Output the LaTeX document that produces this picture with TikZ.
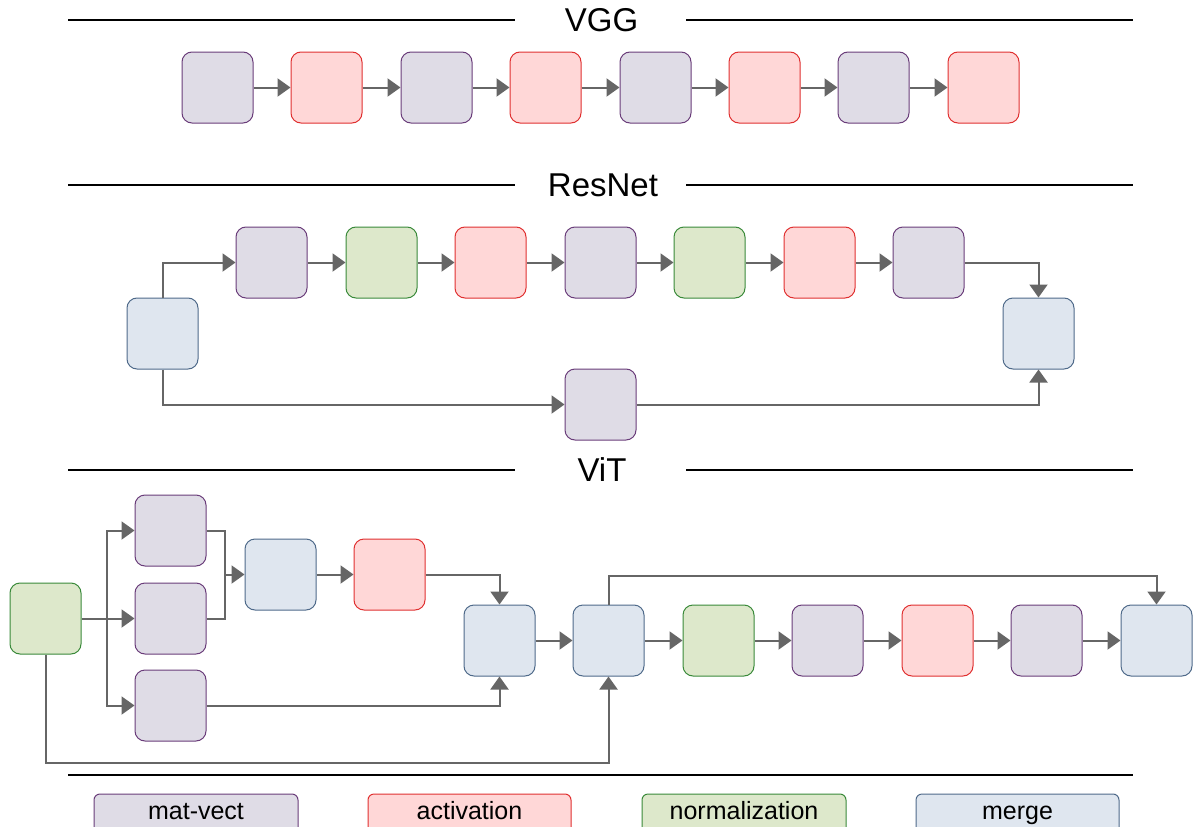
\documentclass[tikz,border=0pt]{standalone}
\usepackage{fontspec}
\setmainfont{Liberation Sans}
\usetikzlibrary{arrows.meta}
\definecolor{mvF}{HTML}{DFDCE6}\definecolor{mvD}{HTML}{6A3D7A}
\definecolor{acF}{HTML}{FFD7D7}\definecolor{acD}{HTML}{E03030}
\definecolor{nmF}{HTML}{DDE8CB}\definecolor{nmD}{HTML}{3A8A3A}
\definecolor{mgF}{HTML}{DFE6EF}\definecolor{mgD}{HTML}{4F6A8A}
\definecolor{arr}{HTML}{666666}
\tikzset{
 blk/.style={rectangle,rounded corners=10pt,minimum width=71pt,minimum height=71pt,line width=1pt,inner sep=0pt},
 mv/.style={blk,fill=mvF,draw=mvD},
 ac/.style={blk,fill=acF,draw=acD},
 nm/.style={blk,fill=nmF,draw=nmD},
 mg/.style={blk,fill=mgF,draw=mgD},
 con/.style={draw=arr,line width=2pt,-{Triangle[length=13pt,width=18pt]}},
 con0/.style={draw=arr,line width=2pt},
 rule/.style={line width=2pt,black},
 ttl/.style={font=\fontsize{33}{38}\selectfont,inner sep=0pt},
 legbox/.style={rounded corners=6pt,line width=1pt},
 legtxt/.style={anchor=base,inner sep=0pt,font=\fontsize{25}{28}\selectfont,text=black},
}
\begin{document}
\begin{tikzpicture}[x=1pt,y=-1pt]
\useasboundingbox (0,0) rectangle (1195,827);
% titles
\draw[rule] (68,20) -- (515,20); \draw[rule] (686,20) -- (1133,20);
\node[ttl] (tvgg) at (601.5,20) {VGG};
\draw[rule] (68,185) -- (515,185); \draw[rule] (686,185) -- (1133,185);
\node[ttl] (tres) at (603,185) {ResNet};
\draw[rule] (68,470) -- (515,470); \draw[rule] (686,470) -- (1133,470);
\node[ttl] (tvit) at (602,470) {ViT};
\draw[rule] (68,775) -- (1133,775);
% VGG
\node[mv] (v1) at (217.5,87.5) {};
\node[ac] (v2) at (326.5,87.5) {};
\node[mv] (v3) at (436.5,87.5) {};
\node[ac] (v4) at (545.5,87.5) {};
\node[mv] (v5) at (655.5,87.5) {};
\node[ac] (v6) at (764.5,87.5) {};
\node[mv] (v7) at (873.5,87.5) {};
\node[ac] (v8) at (983.5,87.5) {};
\foreach \a/\b in {v1/v2,v2/v3,v3/v4,v4/v5,v5/v6,v6/v7,v7/v8}{\draw[con] (\a) -- (\b);}
% ResNet
\node[mg] (rin) at (162.5,333.5) {};
\node[mv] (r1) at (271.5,262.5) {};
\node[nm] (r2) at (381.5,262.5) {};
\node[ac] (r3) at (490.5,262.5) {};
\node[mv] (r4) at (600.5,262.5) {};
\node[nm] (r5) at (709.5,262.5) {};
\node[ac] (r6) at (819.5,262.5) {};
\node[mv] (r7) at (928.5,262.5) {};
\node[mv] (rb) at (600.5,404.5) {};
\node[mg] (rout) at (1038.5,333.5) {};
\foreach \a/\b in {r1/r2,r2/r3,r3/r4,r4/r5,r5/r6,r6/r7}{\draw[con] (\a) -- (\b);}
\draw[con] (rin.north) |- (r1.west);
\draw[con] (rin.south) |- (rb.west);
\draw[con] (r7.east) -| (rout.north);
\draw[con] (rb.east) -| (rout.south);
% ViT
\node[nm] (g0) at (45.5,618.5) {};
\node[mv] (m1) at (170.5,530.5) {};
\node[mv] (m2) at (170.5,618.5) {};
\node[mv] (m3) at (170.5,705.5) {};
\node[mg] (e1) at (280.5,574.5) {};
\node[ac] (a1) at (389.5,574.5) {};
\node[mg] (e2) at (499.5,640.5) {};
\node[mg] (e3) at (608.5,640.5) {};
\node[nm] (g1) at (718.5,640.5) {};
\node[mv] (m4) at (827.5,640.5) {};
\node[ac] (a2) at (937.5,640.5) {};
\node[mv] (m5) at (1046.5,640.5) {};
\node[mg] (e4) at (1156.5,640.5) {};
\coordinate (br) at (107,618.5);
\coordinate (jn) at (225,574.5);
\draw[con0] (g0.east) -- (br);
\draw[con] (br) |- (m1.west);
\draw[con] (br) -- (m2.west);
\draw[con] (br) |- (m3.west);
\draw[con0] (m1.east) -| (jn);
\draw[con0] (m2.east) -| (jn);
\draw[con] (jn) -- (e1.west);
\draw[con] (e1) -- (a1);
\draw[con] (a1.east) -| (e2.north);
\draw[con] (m3.east) -| (e2.south);
\draw[con] (e2) -- (e3);
\draw[con] (g0.south) |- (608.5,763) -- (e3.south);
\draw[con] (e3.north) |- (1156.5,576) -- (e4.north);
\foreach \a/\b in {e3/g1,g1/m4,m4/a2,a2/m5,m5/e4}{\draw[con] (\a) -- (\b);}
% legend
\draw[legbox,fill=mvF,draw=mvD] (94,794) rectangle (298,836);
\draw[legbox,fill=acF,draw=acD] (368,794) rectangle (571,836);
\draw[legbox,fill=nmF,draw=nmD] (642,794) rectangle (846,836);
\draw[legbox,fill=mgF,draw=mgD] (916,794) rectangle (1119,836);
\node[legtxt] (l1) at (196,819) {mat-vect};
\node[legtxt] (l2) at (469.5,819) {activation};
\node[legtxt] (l3) at (744,819) {normalization};
\node[legtxt] (l4) at (1017.5,819) {merge};
\end{tikzpicture}
\end{document}
